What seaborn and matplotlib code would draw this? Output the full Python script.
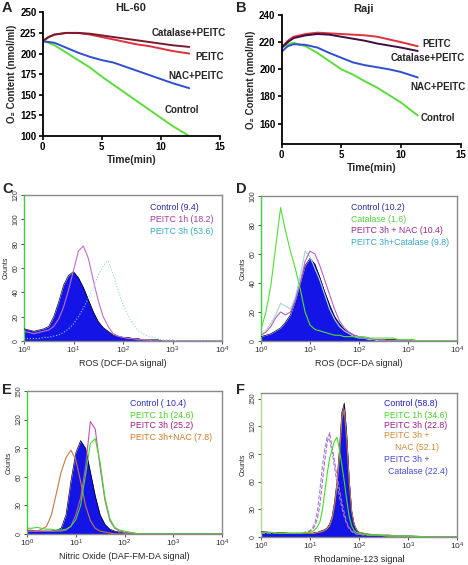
import matplotlib
matplotlib.use("Agg")
import matplotlib.pyplot as plt
import numpy as np
import seaborn as sns
from matplotlib.ticker import FixedLocator, LogFormatterMathtext, NullLocator

W, H = 468, 565

# ── O2 consumption curves (panels A, B) ───────────────────────────────────────
A_TIME = [0, 0.5, 1, 2, 3, 4, 5, 6, 7, 8, 9, 10, 11, 12.4]
A_CONTROL = [215, 213, 210, 201, 192, 183, 172, 162, 152, 142, 132, 122, 112, 100]
A_NAC_PEITC = [215, 214, 213, 207, 201, 196, 192, 189, 184, 179, 174, 169, 164, 158]
A_PEITC = [215, 220, 223, 225, 225, 223, 220, 217, 214, 211, 209, 206, 203, 200]
A_CAT_PEITC = [215, 220, 223, 225, 225, 224, 222, 220, 218, 216, 214, 212, 210, 208]

B_TIME = [0, 0.5, 1, 2, 3, 4, 5, 6, 7, 8, 9, 10, 11.4]
B_CONTROL = [216, 218.5, 219.5, 217, 212, 206, 200, 196, 191, 186.5, 181, 175.5, 166]
B_NAC_PEITC = [213, 217, 218.5, 218, 216, 212, 208.5, 205, 203, 201.5, 200, 198, 194]
B_PEITC = [216, 221, 224, 226, 227, 226.5, 226, 225.5, 225, 224, 222, 220, 217]
B_CAT_PEITC = [216, 220, 223, 225, 226, 225.5, 224, 222.5, 221, 219, 217.5, 216, 213.5]

# ── flow cytometry histograms (log10 of fluorescence channel) ─────────────────
LOG_BINS = [0.0, 0.1, 0.2, 0.3, 0.4, 0.5, 0.6, 0.7, 0.8, 0.9,
            1.0, 1.1, 1.2, 1.3, 1.4, 1.5, 1.6, 1.7, 1.8, 1.9,
            2.0, 2.1, 2.2, 2.3, 2.4, 2.5, 2.6, 2.7, 2.8, 2.9,
            3.0, 3.1, 3.2, 3.3, 3.4, 3.5, 3.6, 3.7, 3.8, 3.9, 4.0]

C_CONTROL = [10, 9, 8, 9, 10, 12, 20, 32, 46, 54,
             57, 52, 44, 34, 24, 16, 11, 8, 5, 4,
             3, 3, 2, 2, 1, 1, 1, 1, 0, 0,
             0, 0, 0, 0, 0, 0, 0, 0, 0, 0, 0]
C_PEITC_1H = [8, 7, 6, 7, 8, 9, 12, 18, 28, 42,
              58, 74, 78, 68, 50, 33, 20, 12, 6, 4,
              3, 2, 2, 1, 1, 1, 0, 0, 0, 0,
              0, 0, 0, 0, 0, 0, 0, 0, 0, 0, 0]
C_PEITC_3H = [2, 2, 2, 2, 3, 3, 4, 5, 7, 10,
              14, 20, 27, 35, 44, 54, 62, 66, 55, 42,
              30, 21, 14, 9, 6, 4, 3, 2, 1, 1,
              1, 0, 0, 0, 0, 0, 0, 0, 0, 0, 0]

D_CONTROL = [3, 4, 5, 7, 9, 13, 18, 28, 40, 52,
             57, 53, 44, 34, 25, 17, 12, 8, 6, 4,
             3, 2, 2, 1, 1, 1, 1, 1, 1, 1,
             1, 0, 0, 0, 0, 0, 0, 0, 0, 0, 0]
D_CATALASE = [8, 20, 38, 65, 92, 76, 62, 50, 36, 20,
              11, 8, 7, 6, 5, 4, 4, 3, 3, 3,
              3, 3, 2, 2, 2, 2, 2, 2, 1, 1,
              1, 1, 0, 0, 0, 0, 0, 0, 0, 0, 0]
D_PEITC_NAC = [4, 6, 10, 16, 20, 18, 20, 28, 40, 55,
               62, 60, 52, 42, 32, 22, 14, 9, 6, 4,
               3, 2, 2, 1, 1, 1, 0, 0, 0, 0,
               0, 0, 0, 0, 0, 0, 0, 0, 0, 0, 0]
D_PEITC_CAT = [4, 7, 12, 18, 26, 24, 22, 30, 45, 62,
               58, 50, 42, 32, 22, 15, 10, 7, 5, 3,
               2, 2, 1, 1, 0, 0, 0, 0, 0, 0,
               0, 0, 0, 0, 0, 0, 0, 0, 0, 0, 0]

E_CONTROL = [4, 4, 3, 3, 3, 3, 4, 6, 20, 55,
             85, 98, 90, 65, 40, 20, 10, 5, 3, 2,
             1, 1, 1, 0, 0, 0, 0, 0, 0, 0,
             0, 0, 0, 0, 0, 0, 0, 0, 0, 0, 0]
E_PEITC_1H = [6, 6, 7, 6, 5, 5, 4, 4, 5, 8,
              15, 30, 62, 95, 100, 75, 38, 16, 7, 4,
              3, 2, 1, 0, 0, 0, 0, 0, 0, 0,
              0, 0, 0, 0, 0, 0, 0, 0, 0, 0, 0]
E_PEITC_3H = [3, 3, 3, 3, 3, 3, 3, 3, 4, 8,
              20, 38, 70, 118, 110, 70, 35, 14, 6, 3,
              2, 1, 0, 0, 0, 0, 0, 0, 0, 0,
              0, 0, 0, 0, 0, 0, 0, 0, 0, 0, 0]
E_PEITC_NAC = [3, 3, 3, 5, 8, 20, 42, 65, 80, 88,
               78, 55, 30, 14, 6, 3, 2, 1, 0, 0,
               0, 0, 0, 0, 0, 0, 0, 0, 0, 0,
               0, 0, 0, 0, 0, 0, 0, 0, 0, 0, 0]

F_BINS = [0.0, 0.2, 0.4, 0.6, 0.8, 0.9, 1.0,
          1.05, 1.1, 1.15, 1.2, 1.25, 1.3, 1.35, 1.4, 1.45, 1.5,
          1.55, 1.6, 1.65, 1.7, 1.75, 1.8, 1.85, 1.9, 1.95, 2.0,
          2.1, 2.2, 2.4, 2.6, 2.8, 3.0, 3.5, 4.0]
F_CONTROL = [6, 5, 5, 4, 4, 4, 4,
             4, 5, 5, 6, 7, 8, 10, 14, 22, 38,
             60, 95, 135, 145, 110, 62, 28, 14, 8, 5,
             4, 3, 2, 2, 1, 1, 0, 0]
F_PEITC_1H = [5, 5, 4, 4, 4, 5, 5,
              6, 8, 11, 16, 28, 48, 68, 85, 95, 104,
              108, 95, 78, 60, 40, 22, 12, 7, 5, 4,
              3, 2, 2, 1, 1, 1, 0, 0]
F_PEITC_3H = [4, 4, 4, 4, 4, 5, 6,
              8, 12, 20, 34, 58, 82, 102, 113, 98, 82,
              66, 52, 38, 26, 16, 10, 7, 5, 4, 3,
              3, 2, 2, 1, 1, 1, 0, 0]
F_PEITC_NAC = [5, 5, 4, 4, 4, 4, 4,
               4, 4, 5, 5, 6, 7, 9, 12, 20, 34,
               55, 88, 128, 138, 105, 60, 28, 14, 8, 5,
               4, 3, 2, 2, 1, 1, 0, 0]
F_PEITC_CAT = [4, 4, 4, 4, 4, 5, 7,
               10, 15, 28, 50, 75, 95, 108, 105, 92, 75,
               58, 44, 32, 22, 14, 9, 6, 4, 3, 3,
               2, 2, 2, 1, 1, 1, 0, 0]

GREEN = "#5cdc3c"
BLUE = "#2f4fd0"
RED = "#e0303c"
FILL_BLUE = "#1414e6"

sns.set_theme(style="ticks")
plt.rcParams["font.family"] = ["Liberation Sans", "DejaVu Sans"]
plt.rcParams.update({
    "mathtext.fontset": "custom",
    "mathtext.rm": "Liberation Sans",
    "mathtext.it": "Liberation Sans:italic",
    "mathtext.bf": "Liberation Sans:bold",
})

fig = plt.figure(figsize=(W / 100, H / 100), dpi=100)


def px_box(left, top, right, bottom):
    return [left / W, 1 - bottom / H, (right - left) / W, (bottom - top) / H]


def fig_text(x, y, s, **kw):
    fig.text(x / W, 1 - y / H, s, **kw)


def o2_panel(box, series, ylim, yticks, labels):
    ax = fig.add_axes(px_box(*box))
    for t, vals, color in series:
        sns.lineplot(x=t, y=vals, ax=ax, color=color, lw=1.4)
    ax.set_xlim(0, 15)
    ax.set_ylim(*ylim)
    ax.set_xticks([0, 5, 10, 15])
    ax.set_yticks(yticks)
    for s in ["top", "right"]:
        ax.spines[s].set_visible(False)
    for s in ["left", "bottom"]:
        ax.spines[s].set_linewidth(1.3)
        ax.spines[s].set_color("black")
    ax.tick_params(length=3, width=1.2, labelsize=7, pad=1.5, colors="black")
    for lab in ax.get_xticklabels() + ax.get_yticklabels():
        lab.set_fontweight("bold")
    ax.set_xlabel("Time(min)", fontsize=7.5, fontweight="bold", labelpad=2)
    ax.set_ylabel("O₂ Content (nmol/ml)", fontsize=7, fontweight="bold", labelpad=2)
    for x, y, s in labels:
        ax.text(x, y, s, fontsize=7, fontweight="bold", va="center", ha="left", clip_on=False)
    return ax


def hist_panel(box, bins, control, lines, ymax, yticks, xlabel, left_spine):
    ax = fig.add_axes(px_box(*box))
    x = 10 ** np.asarray(bins)
    ax.fill_between(x, control, color=FILL_BLUE, lw=0, zorder=2)
    ax.plot(x, control, color="black", lw=0.5, zorder=3)
    for vals, color, ls in lines:
        sns.lineplot(x=x, y=vals, ax=ax, color=color, lw=0.8, linestyle=ls, zorder=4)
    ax.set_xscale("log")
    ax.set_xlim(1, 1e4)
    ax.set_ylim(0, ymax)
    ax.xaxis.set_major_locator(FixedLocator([1, 10, 100, 1000, 10000]))
    ax.xaxis.set_major_formatter(LogFormatterMathtext())
    ax.xaxis.set_minor_locator(NullLocator())
    ax.set_yticks(yticks)
    for s in ax.spines.values():
        s.set_color("#8a8a8a")
        s.set_linewidth(1.0)
    ax.spines["left"].set_color(left_spine)
    ax.tick_params(axis="x", length=2, width=0.6, labelsize=6, pad=1, colors="#333333")
    ax.tick_params(axis="y", length=2, width=0.6, labelsize=5, pad=1, colors="#333333",
                   labelrotation=90)
    for lab in ax.get_yticklabels():
        lab.set_va("center")
    ax.set_xlabel(xlabel, fontsize=6.5, labelpad=1.5)
    ax.set_ylabel("Counts", fontsize=5, labelpad=2)
    return ax


# ── A: HL-60 ──────────────────────────────────────────────────────────────────
o2_panel(
    (42.7, 12.3, 220, 136),
    [(A_TIME, A_CONTROL, GREEN), (A_TIME, A_NAC_PEITC, BLUE),
     (A_TIME, A_PEITC, RED), (A_TIME, A_CAT_PEITC, "#7a1a2c")],
    (100, 250), [100, 125, 150, 175, 200, 225, 250],
    [(9.25, 225, "Catalase+PEITC"), (12.9, 196, "PEITC"),
     (10.6, 173, "NAC+PEITC"), (10.35, 131, "Control")],
)
fig_text(131, 8, "HL-60", fontsize=8, fontweight="bold", ha="center", va="center")

# ── B: Raji ───────────────────────────────────────────────────────────────────
o2_panel(
    (281.7, 15, 460.7, 144),
    [(B_TIME, B_CONTROL, GREEN), (B_TIME, B_NAC_PEITC, BLUE),
     (B_TIME, B_PEITC, RED), (B_TIME, B_CAT_PEITC, "#3c1040")],
    (145, 240), [160, 180, 200, 220, 240],
    [(11.8, 219, "PEITC"), (9.1, 208, "Catalase+PEITC"),
     (10.8, 187, "NAC+PEITC"), (11.65, 164.5, "Control")],
)
fig_text(364, 9, "Raji", fontsize=8, fontweight="bold", ha="center", va="center")

# ── C-F: flow cytometry ───────────────────────────────────────────────────────
hist_panel(
    (24, 195, 222, 341), LOG_BINS, C_CONTROL,
    [(C_PEITC_1H, "#c070c8", "-"), (C_PEITC_3H, "#90d8d8", ":")],
    120, [0, 20, 40, 60, 80, 100, 120], "ROS (DCF-DA signal)", "#40d040",
)
hist_panel(
    (261, 196, 457, 341), LOG_BINS, D_CONTROL,
    [(D_PEITC_CAT, "#a8d4dc", "-"), (D_PEITC_NAC, "#b860c0", "-"),
     (D_CATALASE, "#50e030", "-")],
    100, [0, 20, 40, 60, 80, 100], "ROS (DCF-DA signal)", "#40d040",
)
hist_panel(
    (27, 391, 222, 534), LOG_BINS, E_CONTROL,
    [(E_PEITC_NAC, "#c87840", "-"), (E_PEITC_3H, "#c050c0", "-"),
     (E_PEITC_1H, "#40e020", "-")],
    150, [0, 30, 60, 90, 120, 150], "Nitric Oxide (DAF-FM-DA signal)", "#40d040",
)
hist_panel(
    (261, 393, 457, 537), F_BINS, F_CONTROL,
    [(F_PEITC_NAC, "#c87840", "-"), (F_PEITC_CAT, "#9090d8", "--"),
     (F_PEITC_3H, "#b868c8", "--"), (F_PEITC_1H, "#40e020", "-")],
    156, [0, 30, 60, 90, 120, 150], "Rhodamine-123 signal", "#b0d890",
)

# legends drawn as coloured text
leg = dict(fontsize=6.3, va="center", ha="left")
for i, (s, c) in enumerate([("Control (9.4)", "#2b2b9b"), ("PEITC 1h (18.2)", "#a63a9e"),
                            ("PEITC 3h (53.6)", "#3aa8c0")]):
    fig_text(150, 208 + 12 * i, s, color=c, **leg)
for i, (s, c) in enumerate([("Control (10.2)", "#2b2b9b"), ("Catalase (1.6)", "#52d046"),
                            ("PEITC 3h + NAC (10.4)", "#9b2a8c"),
                            ("PEITC 3h+Catalase (9.8)", "#3aa8c8")]):
    fig_text(351, 208 + 11.5 * i, s, color=c, **leg)
for i, (s, c) in enumerate([("Control ( 10.4)", "#2d2dc0"), ("PEITC 1h (24.6)", "#4ad02a"),
                            ("PEITC 3h (25.2)", "#9b1f86"), ("PEITC 3h+NAC (7.8)", "#d07a2a")]):
    fig_text(130, 404 + 11 * i, s, color=c, **leg)
for x, y, s, c in [(384, 404, "Control (58.8)", "#2020c0"), (384, 415, "PEITC 1h (34.6)", "#4ad02a"),
                   (384, 425, "PEITC 3h (22.8)", "#9b1f86"), (384, 436, "PEITC 3h +", "#d08a3a"),
                   (395, 447, "NAC (52.1)", "#d08a3a"), (384, 459, "PEITC 3h +", "#4a4ad0"),
                   (388, 471, "Catalase (22.4)", "#4a4ad0")]:
    fig_text(x, y, s, color=c, **leg)

# panel letters
for x, y, s in [(2, 1, "A"), (236, 1, "B"), (2, 182, "C"), (236, 182, "D"),
                (2, 383, "E"), (236, 383, "F")]:
    fig_text(x, y, s, fontsize=10.5, fontweight="bold", va="top", ha="left")

fig.savefig("out.png", dpi=100)
